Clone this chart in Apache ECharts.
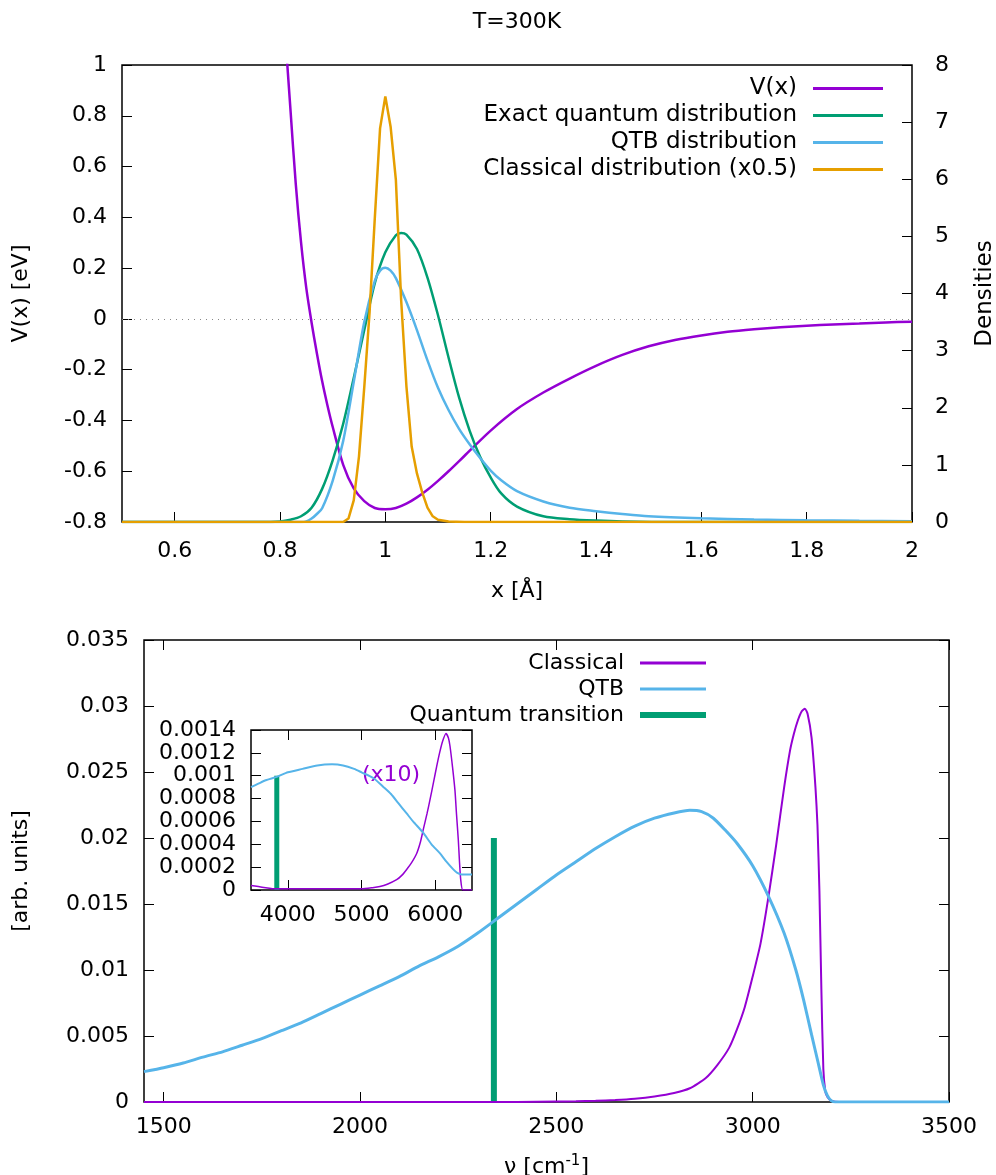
<!DOCTYPE html>
<html><head><meta charset="utf-8">
<script src="https://cdn.jsdelivr.net/npm/echarts@6/dist/echarts.min.js"></script>
<style>html,body{margin:0;padding:0;background:#fff}#c{width:996px;height:1175px}</style>
</head><body><div id="c"></div>
<script>
// ---------- data ----------
const potential = [[0.80,1.45],[0.81,1.12],[0.82,0.82],[0.83,0.53],[0.84,0.30],[0.85,0.12],[0.86,-0.015],[0.87,-0.135],[0.88,-0.245],[0.89,-0.34],[0.90,-0.425],[0.92,-0.575],[0.94,-0.668],[0.96,-0.718],[0.98,-0.745],[1.00,-0.75],[1.02,-0.745],[1.04,-0.728],[1.06,-0.703],[1.08,-0.673],[1.10,-0.638],[1.12,-0.60],[1.15,-0.54],[1.20,-0.44],[1.25,-0.355],[1.30,-0.29],[1.35,-0.235],[1.40,-0.185],[1.45,-0.142],[1.50,-0.108],[1.55,-0.083],[1.60,-0.065],[1.65,-0.051],[1.70,-0.041],[1.75,-0.033],[1.80,-0.027],[1.85,-0.022],[1.90,-0.018],[1.95,-0.014],[2.00,-0.011]];
const exactQuantum = [[0.50,0],[0.76,0],[0.80,0.01],[0.82,0.04],[0.84,0.10],[0.86,0.25],[0.88,0.58],[0.90,1.08],[0.92,1.72],[0.94,2.52],[0.96,3.36],[0.98,4.18],[1.00,4.72],[1.02,5.02],[1.03,5.06],[1.04,5.03],[1.06,4.78],[1.08,4.28],[1.10,3.62],[1.12,2.88],[1.14,2.18],[1.16,1.60],[1.18,1.14],[1.20,0.78],[1.22,0.50],[1.25,0.27],[1.30,0.10],[1.35,0.05],[1.40,0.025],[1.45,0.01],[1.55,0],[2.00,0]];
const qtbDensity = [[0.50,0],[0.84,0],[0.85,0.01],[0.86,0.06],[0.87,0.14],[0.88,0.24],[0.90,0.72],[0.92,1.42],[0.94,2.45],[0.96,3.50],[0.98,4.22],[0.99,4.40],[1.00,4.45],[1.01,4.40],[1.02,4.27],[1.04,3.85],[1.06,3.36],[1.08,2.83],[1.10,2.35],[1.12,1.96],[1.14,1.63],[1.16,1.36],[1.18,1.12],[1.20,0.90],[1.22,0.73],[1.25,0.54],[1.30,0.36],[1.35,0.25],[1.40,0.19],[1.45,0.14],[1.50,0.10],[1.60,0.065],[1.70,0.045],[1.80,0.03],[1.90,0.02],[2.00,0.015]];
const classicalDensity = [[0.50,0],[0.92,0],[0.93,0.06],[0.94,0.38],[0.95,1.15],[0.96,2.36],[0.97,3.66],[0.98,5.32],[0.99,6.89],[1.00,7.45],[1.01,6.92],[1.02,5.99],[1.03,3.89],[1.04,2.38],[1.05,1.32],[1.06,0.85],[1.07,0.52],[1.08,0.25],[1.09,0.10],[1.10,0.04],[1.12,0.01],[1.15,0],[2.00,0]];

const spectrumClassical = [[1450,0],[2400,0],[2500,0.00003],[2550,0.00005],[2600,0.00009],[2650,0.00015],[2700,0.00025],[2750,0.00042],[2800,0.00068],[2840,0.00104],[2880,0.0018],[2910,0.0028],[2940,0.0041],[2960,0.0055],[2980,0.0072],[3000,0.0095],[3020,0.012],[3040,0.0155],[3060,0.0195],[3080,0.0238],[3095,0.0266],[3105,0.0279],[3115,0.0289],[3125,0.0296],[3133,0.0298],[3140,0.0294],[3150,0.0276],[3160,0.0238],[3165,0.021],[3170,0.016],[3175,0.0085],[3180,0.0025],[3185,0.0008],[3190,0.0004],[3200,0.0001],[3220,0],[3500,0]];
const spectrumQTB = [[1450,0.0023],[1500,0.0026],[1550,0.00295],[1600,0.0034],[1650,0.0038],[1700,0.0043],[1750,0.0048],[1800,0.0054],[1850,0.0060],[1900,0.0067],[1950,0.0074],[2000,0.0081],[2050,0.0088],[2100,0.0095],[2150,0.0103],[2200,0.0110],[2250,0.0118],[2300,0.0128],[2350,0.0139],[2400,0.0150],[2450,0.0161],[2500,0.0172],[2550,0.0182],[2600,0.0192],[2650,0.0201],[2700,0.0209],[2750,0.0215],[2800,0.0219],[2840,0.0221],[2870,0.0220],[2900,0.0215],[2930,0.0206],[2960,0.0196],[3000,0.0179],[3040,0.0156],[3080,0.0128],[3110,0.0100],[3130,0.0077],[3150,0.0051],[3165,0.0032],[3180,0.0013],[3190,0.0005],[3200,0.0001],[3210,0],[3500,0]];
const quantumTransition = [[2341,0.02]];

const insetClassical = [[3500,0.00004],[3600,0.00003],[3700,0.00002],[3800,0.00001],[4500,0.00001],[5000,0.00001],[5150,0.00002],[5250,0.00003],[5350,0.00005],[5477,0.00009],[5550,0.00013],[5613,0.00018],[5680,0.00024],[5749,0.00032],[5800,0.00042],[5839,0.00053],[5890,0.00067],[5930,0.00079],[5980,0.00095],[6020,0.00108],[6060,0.0012],[6100,0.0013],[6147,0.00137],[6180,0.00133],[6201,0.00126],[6235,0.00108],[6269,0.00087],[6290,0.00066],[6314,0.00044],[6330,0.00025],[6347,0.00009],[6375,0],[6500,0]];
const insetQTB = [[3500,0.0009],[3600,0.00093],[3700,0.00096],[3850,0.00099],[4000,0.00103],[4200,0.00106],[4400,0.00109],[4600,0.0011],[4750,0.00109],[4900,0.00106],[5000,0.00103],[5160,0.00098],[5300,0.0009],[5400,0.00084],[5500,0.00076],[5613,0.00067],[5700,0.0006],[5839,0.0005],[5950,0.0004],[6066,0.00032],[6150,0.00025],[6246,0.00018],[6300,0.00015],[6360,0.000136],[6500,0.000136]];
const insetTransition = [[3850,0.001]];

const topXTicks = [0.6,0.8,1.0,1.2,1.4,1.6,1.8,2.0];
const specXTicks = [1500,2000,2500,3000,3500];
const insetXTicks = [4000,5000,6000];

// ---------- styling ----------
const FONT = 'DejaVu Sans';
const FS = 22;
const C = {purple:'#9400d3', green:'#009e73', blue:'#56b4e9', orange:'#e69f00'};
const fmt = v => String(parseFloat(Number(v).toFixed(6)));
const txt = {color:'#000', fontFamily:FONT, fontSize:FS};
const tickStyle = {color:'#000', width:1};

function xAx(grid, min, max, ticks, opt) {
  return Object.assign({
    type:'value', gridIndex:grid, min, max, position:'bottom',
    axisLine:{show:false, onZero:false}, splitLine:{show:false},
    axisTick:{show:true, inside:true, length:10, customValues:ticks, lineStyle:tickStyle},
    axisLabel:Object.assign({show:true, customValues:ticks, formatter:fmt, margin:14}, txt),
    nameTextStyle:txt
  }, opt || {});
}
function xMirror(grid, min, max, ticks) {
  return {type:'value', gridIndex:grid, min, max, position:'top',
    axisLine:{show:false, onZero:false}, splitLine:{show:false},
    axisTick:{show:true, inside:true, length:10, customValues:ticks, lineStyle:tickStyle},
    axisLabel:{show:false}};
}
function yAx(grid, min, max, interval, pos, opt) {
  return Object.assign({
    type:'value', gridIndex:grid, min, max, interval, position:pos,
    axisLine:{show:false, onZero:false}, splitLine:{show:false},
    axisTick:{show:true, inside:true, length:10, lineStyle:tickStyle},
    axisLabel:Object.assign({show:true, formatter:fmt, margin:15}, txt),
    nameTextStyle:txt
  }, opt || {});
}
function yMirror(grid, min, max, interval) {
  return {type:'value', gridIndex:grid, min, max, interval, position:'right',
    axisLine:{show:false, onZero:false}, splitLine:{show:false},
    axisTick:{show:true, inside:true, length:10, lineStyle:tickStyle},
    axisLabel:{show:false}};
}
function leg(name, right, top, w, h, fs) {
  return {data:[name], right, top, orient:'horizontal', align:'right', icon:'rect',
    itemWidth:w, itemHeight:h, padding:0, selectedMode:false,
    textStyle:{padding:[0,11,0,0], color:'#000', fontFamily:FONT, fontSize:fs}};
}
function line(name, data, color, xi, yi, width, smooth, extra) {
  return Object.assign({type:'line', name, data, xAxisIndex:xi, yAxisIndex:yi, color,
    showSymbol:false, symbol:'none', smooth, lineStyle:{color, width}, clip:true, animation:false}, extra || {});
}
const gridBase = {show:true, borderColor:'#000', borderWidth:1.5, backgroundColor:'#fff', containLabel:false, outerBoundsMode:'none'};

const chart = echarts.init(document.getElementById('c'), null, {renderer:'canvas'});
chart.setOption({
  backgroundColor:'#fff',
  animation:false,
  textStyle:{fontFamily:FONT},
  graphic:[{type:'text', x:517, y:22, style:{text:'T=300K', fontFamily:FONT, fontSize:FS, fill:'#000', align:'center', verticalAlign:'middle'}}],
  grid:[
    Object.assign({left:122, top:65, width:790, height:457}, gridBase),
    Object.assign({left:144, top:640, width:805, height:462}, gridBase),
    Object.assign({left:251, top:730, width:221, height:160, z:5}, gridBase)
  ],
  xAxis:[
    xAx(0, 0.5, 2, topXTicks, {name:'x [Å]', nameLocation:'middle', nameGap:58, axisLabel:Object.assign({customValues:topXTicks, formatter:fmt, margin:18}, txt)}),
    xAx(1, 1450, 3500, specXTicks, {name:'{n|ν [cm}{s|-1}{n|]}', nameLocation:'middle', nameGap:52,
      nameTextStyle:Object.assign({rich:{n:Object.assign({}, txt), s:{color:'#000', fontFamily:FONT, fontSize:15, padding:[0,0,11,0]}}}, txt)}),
    xMirror(1, 1450, 3500, specXTicks),
    xAx(2, 3500, 6500, insetXTicks, {z:6}),
    Object.assign(xMirror(2, 3500, 6500, insetXTicks), {z:6})
  ],
  yAxis:[
    yAx(0, -0.8, 1, 0.2, 'left', {name:'V(x) [eV]', nameLocation:'middle', nameRotate:90, nameGap:90}),
    yAx(0, 0, 8, 1, 'right', {name:'Densities', nameLocation:'middle', nameRotate:90, nameGap:62, nameTextStyle:{color:'#000', fontFamily:FONT, fontSize:23}, axisLabel:Object.assign({formatter:fmt, margin:23}, txt)}),
    yAx(1, 0, 0.035, 0.005, 'left', {name:'[arb. units]', nameLocation:'middle', nameRotate:90, nameGap:112}),
    yMirror(1, 0, 0.035, 0.005),
    yAx(2, 0, 0.0014, 0.0002, 'left', {z:6}),
    Object.assign(yMirror(2, 0, 0.0014, 0.0002), {z:6})
  ],
  legend:[
    leg('V(x)', 113, 77, 70, 3, 23),
    leg('Exact quantum distribution', 113, 104, 70, 3, 23),
    leg('QTB distribution', 113, 131, 70, 3, 23),
    leg('Classical distribution (x0.5)', 113, 158, 70, 3, 23),
    leg('Classical', 290, 652, 66, 3, 22),
    leg('QTB', 290, 678, 66, 3, 22),
    leg('Quantum transition', 290, 704, 66, 6, 22)
  ],
  series:[
    line('V(x)', potential, C.purple, 0, 0, 2.5, 0.3, {
      markLine:{silent:true, symbol:'none', label:{show:false},
        lineStyle:{color:'#888', type:[1,5], width:1}, data:[{yAxis:0}]}
    }),
    line('Exact quantum distribution', exactQuantum, C.green, 0, 1, 2.5, 0.3),
    line('QTB distribution', qtbDensity, C.blue, 0, 1, 2.5, 0.3),
    line('Classical distribution (x0.5)', classicalDensity, C.orange, 0, 1, 2.5, false),
    line('Classical', spectrumClassical, C.purple, 1, 2, 2, 0.2),
    line('QTB', spectrumQTB, C.blue, 1, 2, 3, 0.2),
    {type:'bar', name:'Quantum transition', data:quantumTransition, xAxisIndex:1, yAxisIndex:2, barWidth:6, color:C.green, itemStyle:{color:C.green}, animation:false},
    line('Classical (x10) inset', insetClassical, C.purple, 3, 4, 1.5, 0.2, {z:7,
      markPoint:{symbol:'rect', symbolSize:1, itemStyle:{color:'rgba(0,0,0,0)'},
        label:{show:true, position:'inside', formatter:'(x10)', color:C.purple, fontFamily:FONT, fontSize:FS},
        data:[{coord:[5400, 0.001]}]}}),
    line('QTB inset', insetQTB, C.blue, 3, 4, 2, 0.2, {z:7}),
    {type:'bar', name:'Quantum transition inset', data:insetTransition, xAxisIndex:3, yAxisIndex:4, barWidth:5, color:C.green, itemStyle:{color:C.green}, z:7, animation:false}
  ]
});
</script></body></html>
